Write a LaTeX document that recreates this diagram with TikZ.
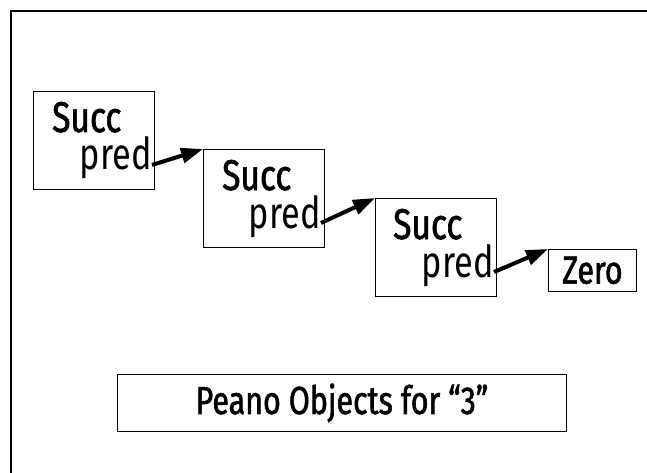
\documentclass[tikz,border=0pt]{standalone}
\usepackage{fontspec}
\setmainfont{Fira Sans}[FakeStretch=0.78]
\newfontfamily\heavyfont{Fira Sans}[FakeStretch=0.78,FakeBold=1.5]
\usetikzlibrary{arrows.meta}

\begin{document}
\begin{tikzpicture}[x=1pt,y=-1pt,
		obj/.style={draw, line width=0.8pt, inner sep=0pt, anchor=north west,
			minimum width=121pt, minimum height=98pt},
		word/.style={inner sep=0pt, font=\fontsize{44}{44}\selectfont},
		head/.style={inner sep=0pt, font=\fontsize{43}{43}\selectfont\heavyfont},
		ptr/.style={line width=4pt, -{Triangle[length=22pt,width=15pt]}}]
		%\draw [help lines] (0,0) grid (647,473);
		\clip (0,0) rectangle (647,473);
		\draw[line width=1.5pt] (11,11) rectangle (700,520);
		\node[obj] (s1) at (33,91) {};
		\node[head, anchor=base west] (s1succ) at (52,132) {Succ};
		\node[word, anchor=base east] (s1pred) at (152,170) {pred};
		\node[obj] (s2) at (203,149) {};
		\node[head, anchor=base west] (s2succ) at (222,190) {Succ};
		\node[word, anchor=base east] (s2pred) at (321,228) {pred};
		\node[obj] (s3) at (375,198) {};
		\node[head, anchor=base west] (s3succ) at (393,239) {Succ};
		\node[word, anchor=base east] (s3pred) at (494,277) {pred};
		\node[draw, line width=0.8pt, anchor=north west, minimum width=88pt, minimum height=42pt,
			font=\fontsize{39}{39}\selectfont\heavyfont] (zero) at (548,249) {Zero};
		\draw[ptr] ([yshift=5pt]s1pred.base east) -- (s2.north west);
		\draw[ptr] ([yshift=5pt]s2pred.base east) -- (s3.north west);
		\draw[ptr] ([yshift=5pt]s3pred.base east) -- (zero.north west);
		\node[draw, line width=0.8pt, anchor=north west, minimum width=449pt, minimum height=57pt,
			font=\fontsize{39}{39}\selectfont\heavyfont] (title) at (117,374) {Peano Objects for “3”};
	\end{tikzpicture}
\end{document}
